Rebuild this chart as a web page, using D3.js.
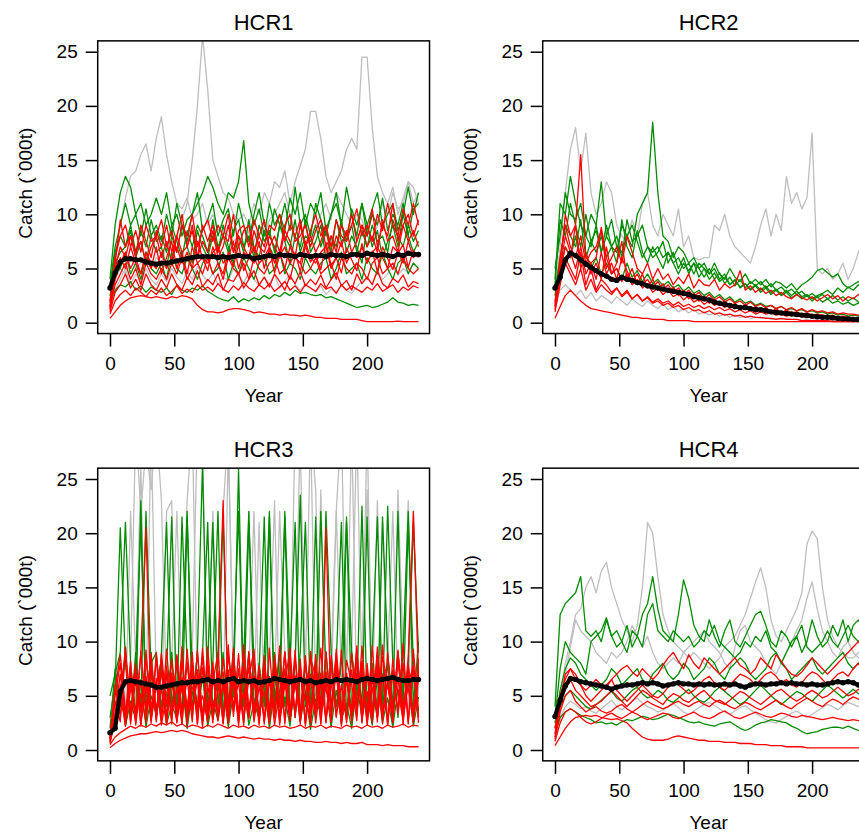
<!DOCTYPE html>
<html>
<head>
<meta charset="utf-8">
<script src="https://cdn.jsdelivr.net/npm/d3@7"></script>
<style>
  body { margin: 0; background: #fff; }
  text { font-family: "Liberation Sans", Arial, sans-serif; }
</style>
</head>
<body>
<svg id="chart" width="859" height="832"></svg>
<script>
// years sampled every 4 years
const years = d3.range(0, 241, 4)
const yTicks = [0, 5, 10, 15, 20, 25]
const xTicks = [0, 50, 100, 150, 200]
const titles = ["HCR1", "HCR2", "HCR3", "HCR4"]

// ---------- HCR1 ----------
const hcr1Median = [3.2,4.6,5.6,5.9,5.9,5.8,5.8,5.6,5.5,5.4, 5.5,5.5,5.6,5.7,5.8,5.9,6.0,6.1,6.1,6.1, 6.1,6.0,6.1,6.0,6.1,6.2,6.1,6.1,5.9,6.0, 6.1,6.2,6.1,6.3,6.2,6.2,6.1,6.3,6.2,6.1, 6.2,6.2,6.1,6.3,6.2,6.2,6.1,6.3,6.3,6.2, 6.4,6.3,6.2,6.3,6.2,6.1,6.3,6.2,6.4,6.3, 6.3]
const hcr1Grey = [
  [3,6,9,11.5,13.5,14,15.5,16.5,14,17, 19,15.5,13,11,10.5,11.5,9.5,10,11,9, 10,8.5,9,8,7.5,8,7,8.5,7.5,9, 8,9.5,10,11,12,10,8.5,9,7.5,8, 9,10,11,9.5,12,11,10,9,10,9.5, 8,7.5,9,11,10,12,10.5,11,13,12.5, 11],
  [2.5,4,5,4.5,6,5,5.5,6.5,5,6, 5.5,7,6,8,9.5,11,15,20,26.5,21.5, 15,13.5,12,11.5,10,9.5,10,9,11,10, 12,11,13,12.5,14,11,13,14.5,16,19.5, 19.5,17,13.5,12,13,14,16,17,16,24.5, 24.5,18,13.5,12,11,12.5,10,11.5,13,11, 12],
  [1.5,3,4,5,3.5,4.5,3.8,5,4,3.5, 4.5,3.8,5,4.2,3.6,4.8,4,5.2,4.4,3.8, 4.6,3.5,4.2,3.9,5,4.3,3.7,4.6,4,3.4, 4.2,3.6,4.4,3.2,3.8,4.5,3.5,3,3.6,3.2, 2.8,3.4,2.6,3.1,2.8,3.5,3,2.7,3.3,3.8, 4.2,3.6,4.8,4,4.5,5.2,4.4,5,4.6,5.5, 5]
]
const hcr1Green = [
  [4,9,12,13.5,12.5,10,11,9,10,11.5, 10,12,9,10,8,9.5,10,11,12,13.5, 12.5,11,10,12,11.5,13,16.8,11,9,10.5, 8,11,9,10,8.5,11.5,10,12,9,11, 10,12,8.5,10,11,9,12.5,10,8,11, 9,10.5,12,9,10,11,8.5,10,12.5,10, 12],
  [3.5,7,9,11,9,10,8,10.5,8,9, 7.5,10,8,11,9,7.5,10,12,8.5,9.5, 11,8,9.5,10.5,8,11,9,7.5,10,12, 9,8,10.5,9,11,8.5,12.5,9,10,8, 11,9.5,8,10,12,9,7.5,10.5,9,11, 8,10,9,11.5,8.5,10,9,11,8,10.5, 11],
  [3,5.5,6.5,7,8.5,6,7.5,5.5,8,6.5, 7,5,8,6.5,9,7,5.5,8.5,7,6, 8,6.5,9,7,5.5,8,6.5,9.5,7,6, 8.5,7,6,9,7.5,5.5,8,7,9.5,6.5, 7.5,9,6,8,7,9.5,6.5,8,7,5.5, 9,7,8.5,6,7.5,9,7,10,8,6.5, 7.5],
  [2.5,4.5,5,6.5,4.5,5.5,4,6,5,4.5, 5.5,4,6.5,5,4.5,6,5,4,5.5,6, 4.5,5,6.5,4,5.5,4.5,6,5,4,5.5, 6,4.5,5,6.5,4.5,5.5,5,4,6,5, 4.5,5.5,6,4,5,6.5,4.5,5,5.5,4, 6,5,4.5,6.5,5,4,5.5,6,4.5,5.5, 5],
  [2,3,3.5,3.3,3.8,3,3.4,2.8,3.3,3, 2.8,3.2,2.6,3.5,3,2.8,3.2,3,3.4,2.9, 2.6,2.3,2.1,2,2.4,1.9,2.2,2,2.3,2.1, 2.5,2.2,2.6,2.4,2.8,2.5,3,2.7,2.8,2.6, 2.5,2.6,2.3,2.4,2.2,2,1.8,1.6,1.4,1.5, 1.6,1.4,1.5,1.7,1.9,2.3,1.9,1.8,1.6,1.7, 1.6],
  [3,6.5,8,7,9,6.5,8.5,7,9.5,7.5, 8,6.5,9,7.5,6,8.5,7,9,8,6.5, 9.5,7,8,6.5,8.5,9.5,7,8,6,9, 7.5,8.5,6.5,9,8,7,9.5,6.5,8,7.5, 9,7,8.5,6.5,9.5,7.5,8,9,6.5,8.5, 7,9,7.5,8,6.5,9.5,8,7,9,7.5, 8.5]
]
const hcr1Red = [
  [2,6,8,9,7,8.5,6.5,9,7.5,8, 9.5,7,8.5,6.5,9,8,10,7,8.5,9.5, 7.5,9,8,10,6.5,8.5,9,7,9.5,8, 7,9,8.5,10,7.5,9,8,9.5,7,8.5, 10,8,9,7,9.5,8,7.5,9,10.5,8, 9,7.5,10,8.5,11,9,8,10.5,9,11, 9],
  [1.5,5,7,6,8,6.5,7.5,5.5,7,8, 6,7.5,5.5,8,6.5,7,9,6,7.5,6.5, 8.5,6,7,9,6.5,8,7,6,8.5,7, 6.5,8,7,6,8.5,7.5,6,9,7,8, 6.5,7.5,9,6,8,7,8.5,6.5,7.5,9, 7,8,6.5,9.5,7.5,8,6.5,9,7.5,8.5, 7],
  [1.2,4,5.5,6.5,5,6,4.5,6.5,5.5,5, 6.5,5,6,7,5.5,6.5,5,7.5,6,5.5, 6.5,7,5.5,6,7.5,5,6.5,6,7,5.5, 6,7,5.5,6.5,5,7,6,5.5,7.5,6, 5.5,6.5,7,5,6,7.5,5.5,6.5,6,7, 5.5,6.5,7,6,5,7,6.5,5.5,7.5,6, 6.5],
  [1.5,3.5,4.5,5.5,4,5,3.5,5.5,4.5,4, 5,4,5.5,4.5,6,4,5,5.5,4.5,6, 4.5,5.5,4,6,5,4.5,5.5,4,6,5, 4.5,5.5,6,4.5,5,4,6,5.5,4.5,5, 6,4.5,5,5.5,4,6,5,4.5,5.5,5, 4,5.5,6,4.5,5,5.5,4.5,6,5,4.5, 5],
  [1,2.8,3.5,4.5,3.2,4,3,4.5,3.5,3, 4,3.2,4.5,3.5,3,4.2,3.5,4.8,3.3,4, 3.5,4.5,3,4,3.8,4.6,3.2,4,4.8,3.5, 4.2,3.3,4.5,3.8,3,4.3,3.6,4.7,3.4,4, 3.5,4.4,3.2,4,4.6,3.4,3.9,3,4.5,3.6, 4.2,3.5,4.8,3.6,3.2,4.1,3.7,4.4,3.3,3.8, 3.6],
  [0.8,2,2.6,3,2.5,3.2,2.8,2.4,3,2.6, 3.2,2.5,2.9,3.4,2.7,3.1,2.8,3.5,3,3.3, 2.9,3.6,3.1,2.8,3.4,3,3.7,3.2,2.9,3.5, 3.1,3.6,2.9,3.3,3.8,3,3.4,2.8,3.5,3.2, 2.9,3.6,3.1,3.3,2.7,3.5,3,3.4,3.1,2.8, 3.3,3,3.6,2.9,3.2,3.5,2.8,3.3,3,3.4, 3.2],
  [0.4,1,1.6,2,2.3,2.4,2.5,2.4,2.3,2.4, 2.3,2.2,2.4,2.3,2.5,2.4,2.2,1.6,1.2,1, 1,0.9,1,1.2,1.3,1.3,1.2,1.1,0.9,1, 0.9,0.8,0.8,0.7,0.8,0.7,0.7,0.6,0.7,0.6, 0.5,0.5,0.4,0.4,0.4,0.3,0.3,0.3,0.3,0.2, 0.1,0.1,0.1,0.1,0.1,0.1,0.15,0.1,0.1,0.1, 0.1],
  [1.8,5.5,9.5,7,8,6,9,7.5,6,8.5, 7,9,6.5,8,10,7,8.5,6,9,7.5, 9,6.5,8,7.5,10,7,8.5,9,6.5,8, 9.5,7,8,6.5,9,10,7.5,8,9,7, 8.5,9.5,7,8,6.5,9,8,10,7.5,9, 8,10.5,7,9,8,11,7.5,9,10,8, 9.5],
  [1.3,4.5,6,5,7,5.5,4.5,6.5,5,7, 4.5,6,7.5,5,6.5,4.5,7,5.5,6,4.8, 7,5.5,4.5,6.5,5.2,7.2,4.8,6,5.5,7.5, 5,6.8,4.6,6.2,7,5.4,6.5,4.7,7.1,5.6, 6.3,4.9,7.4,5.3,6,4.6,6.9,5.8,4.8,7.3, 5.5,6.6,4.7,7,5.9,4.9,6.4,7.2,5.1,6.7, 6]
]

// ---------- HCR2 ----------
const hcr2Median = [3.2,4.2,5.8,6.4,6.2,5.8,5.4,5.1,4.8,4.5, 4.3,4.0,3.9,4.2,4.0,3.9,3.7,3.6,3.4,3.3, 3.2,3.1,3.0,2.9,2.8,2.7,2.6,2.4,2.3,2.2, 2.1,1.9,1.8,1.7,1.6,1.5,1.4,1.4,1.3,1.2, 1.2,1.1,1.0,0.95,0.9,0.85,0.8,0.75,0.7,0.65, 0.6,0.55,0.5,0.5,0.45,0.4,0.35,0.35,0.3,0.3, 0.25]
const hcr2Grey = [
  [2.5,7,12,16,18,14,17.5,12,10,11, 13,12,9,8,7.5,9.5,8,11,12,9, 8,10,9,8,10.5,7,8,6,5.8,6, 6,9,8.5,10,8,7,6.5,6,5.5,7, 9,10.5,8,10,8.5,13.5,11,12,10.5,11.5, 17.5,5,4.5,5,4,4.5,5.5,4,5,6.5, 7.5],
  [2,3,3.5,3,2.5,3,2.2,2.8,2,2.5, 2.2,1.8,2.4,2,1.6,2.2,1.8,1.5,2,1.6, 1.3,1.7,1.2,1.5,1,1.3,0.9,1.2,0.8,1, 0.7,0.9,0.6,0.8,0.5,0.7,0.5,0.6,0.4,0.5, 0.4,0.5,0.3,0.4,0.3,0.4,0.3,0.3,0.2,0.3, 0.2,0.3,0.2,0.2,0.2,0.2,0.2,0.2,0.2,0.2, 0.2]
]
const hcr2Green = [
  [4,11,10,13.5,11,9,8,10,9,13, 8,7,6.5,9,8,7,10,11,12,18.5, 12,8,7.5,6,7,6.5,5.5,6,5,5.5, 4.5,5,4,4.5,3.5,4,3.2,3.6,3,3.4, 2.8,3.2,2.6,3,2.5,2.8,2.3,2.6,2.2,2.5, 2,2.4,1.9,2.2,1.8,2,1.7,1.9,1.6,1.8, 1.6],
  [5,8,12,10,9.5,11,8,7,9,6.5, 8,9.5,7,6.5,8,9,7.5,6,7,6.5, 7,6,6.5,5.5,6,5,5.5,4.5,5.5,5, 4.5,5.5,4.5,4,5,4.2,3.8,4.5,3.6,4, 3.5,4,3.3,3.8,3.6,3.2,3.6,3,3.5,3.8, 4.2,4.8,5,4.6,4.2,4.5,3.6,3.2,3.5,3.8, 3.4],
  [3,6,9,8,7,9.5,6,7.5,6.5,8, 6,7,5.5,9.5,7,6,8.5,6.5,5.5,7, 6,5,6.5,5.5,4.5,5.5,4.8,5.5,4.2,5, 4,4.6,3.8,4.2,3.5,3.9,3.3,3.6,3.1,3.5, 3,3.4,2.8,3.1,2.6,3,2.5,2.9,2.4,2.6, 2.2,2.5,2.7,3,2.6,3.2,2.8,3.3,3,3.5, 3.2],
  [2.5,5,7,6,8,5.5,6.5,5,6,4.5, 5.5,4.5,5,4,5.5,4.2,4.8,3.8,4.5,3.6, 4,3.4,3.8,3.2,3.5,2.9,3.3,2.7,3,2.5, 2.8,2.3,2.6,2.1,2.4,1.9,2.2,1.8,2,1.6, 1.8,1.5,1.6,1.3,1.5,1.2,1.3,1.1,1.2,1, 1.1,0.9,1,0.8,0.9,0.7,0.8,0.6,0.7,0.6, 0.6],
  [3.5,9.5,8,11,9,7,10,7.5,8.5,6.5, 9,7,8,6,9.5,7.5,8,9,7,6, 6.5,7.5,5.5,6.5,5,6,4.5,5.5,5,4.2, 5,4,4.6,3.6,4.2,3.4,4,3.2,3.8,3.4, 3.8,3.2,3.6,3,3.3,2.8,3.1,2.6,2.9,2.4, 2.7,2.3,2.6,2.2,2.5,2.1,2.4,2,2.3,1.9, 2.1]
]
const hcr2Red = [
  [2,5,10,8,9,15.5,6,5.5,6,8.8, 6,4.5,5.5,7.5,4,5,3.5,4.5,3.2,4, 3,3.6,2.8,3.3,2.5,3,2.2,2.7,2,2.4, 1.8,2.2,1.6,2,1.5,1.8,1.3,1.7,1.2,1.5, 1.1,1.4,1,1.3,0.9,1.2,0.9,1,0.8,0.9, 0.7,0.8,0.7,0.6,0.7,0.5,0.6,0.5,0.5,0.4, 0.4],
  [1.5,6,9,7,6,8,5.5,6.5,7,8.5, 5,6,7,5.5,8,6.5,5,4.5,5.5,4, 5,4,4.5,3.5,4.2,3.6,4.5,3.2,4,3.5, 3.4,4,3,3.6,3.2,3.5,4.8,3,3.4,2.8, 3.2,2.7,3,2.5,2.8,2.4,2.2,2.6,2.3,2.1, 2.4,2,2.3,2.6,2.2,2.5,2,2.4,2.2,2.6, 2.3],
  [1.2,4.5,7,6,9,5,6.5,4.5,5.5,4, 7,4.5,5,3.8,4.5,3.5,4,3.2,3.6,2.8, 3.2,2.6,3,2.4,2.7,2.1,2.5,1.9,2.2,1.7, 2,1.6,1.8,1.4,1.6,1.3,1.5,1.2,1.3,1, 1.2,1,1.1,0.8,1,0.8,0.9,0.7,0.8,0.6, 0.7,0.6,0.6,0.5,0.5,0.5,0.4,0.4,0.4,0.3, 0.3],
  [1,3.5,6,5,4,6.5,3.5,5,3,4, 3.5,2.8,3.2,2.5,3,2.2,2.6,2,2.3,1.8, 2,1.6,1.8,1.4,1.6,1.2,1.4,1.1,1.2,0.9, 1.1,0.8,0.9,0.7,0.8,0.6,0.7,0.5,0.6,0.5, 0.5,0.4,0.4,0.3,0.4,0.3,0.3,0.3,0.2,0.2, 0.2,0.2,0.2,0.2,0.1,0.1,0.1,0.1,0.1,0.1, 0.1],
  [0.4,1.5,2.5,3,2.5,2,1.6,1.3,1.2,1.1, 1,0.9,0.8,0.7,0.6,0.5,0.5,0.4,0.4,0.3, 0.3,0.3,0.2,0.2,0.2,0.2,0.2,0.1,0.1,0.1, 0.1,0.1,0.1,0.1,0.1,0.1,0.1,0.1,0.1,0.1, 0.1,0.1,0.1,0.1,0.1,0.1,0.1,0.1,0.1,0.1, 0.1,0.1,0.1,0.1,0.1,0.1,0.1,0.1,0.1,0.1, 0.1],
  [1.8,5,8,6.5,5,7,4.5,5.5,4,6.5, 4.5,5.5,4,6,4.8,3.8,4.5,3.5,4,3.2, 3.8,3,3.5,2.8,3.2,2.6,3,2.4,2.8,2.2, 2.6,2.1,2.4,1.9,2.2,1.8,2,1.6,1.9,1.5, 1.7,1.4,1.6,1.3,1.5,1.2,1.4,1.1,1.3,1, 1.2,1,1.1,0.9,1,0.8,0.9,0.8,0.8,0.7, 0.7],
  [1.5,4,5.5,4.5,3.5,5,3,4,2.8,3.5, 3,2.6,3.2,2.4,2.8,2.2,2.6,2,2.4,1.9, 2.2,1.8,2,1.6,1.9,1.5,1.7,1.4,1.6,1.3, 1.5,1.2,1.4,1.1,1.3,1,1.2,0.9,1.1,0.8, 1,0.8,0.9,0.7,0.8,0.6,0.7,0.6,0.6,0.5, 0.5,0.5,0.4,0.4,0.4,0.3,0.3,0.3,0.3,0.3, 0.3]
]

// ---------- HCR3 ----------
const hcr3Median = [1.6,2.0,5.4,6.3,6.4,6.3,6.2,6.1,6.0,5.8, 5.8,5.9,6.0,6.1,6.2,6.2,6.3,6.3,6.4,6.5, 6.3,6.4,6.3,6.5,6.6,6.3,6.4,6.3,6.4,6.2, 6.3,6.4,6.6,6.5,6.4,6.3,6.4,6.5,6.3,6.4, 6.2,6.3,6.4,6.3,6.5,6.4,6.5,6.4,6.3,6.5, 6.6,6.5,6.4,6.5,6.6,6.7,6.5,6.4,6.4,6.5, 6.5]
const hcr3Grey = [
  [1,6,9,4,8,30,22,28,24,30, 23,5,8,22,6,3,9,30,28,4, 7,3,22,30,5,8,3,7,22,4, 8,3,6,22,9,4,7,30,26,30, 24,3,8,5,22,7,3,9,30,6, 30,4,23,3,8,22,5,9,23,4, 7],
  [1.5,4,7,3,22,8,26,4,30,6, 3,22,23,4,8,23,30,5,3,8, 22,6,4,28,8,3,9,22,5,21, 4,8,23,3,9,5,30,28,7,30, 5,24,3,8,22,30,6,30,4,9, 24,6,3,21,7,4,24,9,3,22, 5]
]
const hcr3Green = [
  [5,7,9,21,8,3,23,2.5,8,9, 4,7,21.5,3,8,22,3,9,26.5,4, 8,22,3,9,5,26,4,21,8,3, 9,22,4,7,21.5,3,8,23.5,4,9, 3,22,7,4,8,21,3,9,5,22.5, 4,8,3,21.5,9,4,22,3,8,21, 9],
  [3,6,20.5,8,3,9,4,22,7,3, 9,21,4,8,3,21.5,7,4,9,21, 3,8,21.5,4,9,3,8,22,4,7, 21.5,3,9,4,22,8,3,9,21,4, 8,3,22,9,4,8,21.5,3,9,4, 21.5,3,9,4,22.5,8,3,9,22,4, 10],
  [2,7.5,4,9.5,3,8,21,4,9,3, 8,4,9,3,21.5,8,4,9,3,8, 21,4,9,3,8,22,4,9,3,8, 4,21.5,3,9,4,8,21,3,8,4, 21.5,3,9,4,8,3,21,9,4,8, 3,9,21.5,4,8,3,9,4,21,8, 3],
  [1.5,3,5.5,2.2,4.5,2.8,6.5,2.1,5,3.2, 5.8,2.4,4.2,2.9,6.3,2,5.4,3.4,6.8,2.2, 4.6,2.7,5.9,2.1,5.2,3.6,6.1,2.3,4.4,2.9, 6.4,2,5.7,3.1,4.9,2.2,6.6,2.6,5.3,1.9, 4.7,3.3,6.2,2.1,5.5,2.8,4.3,2,6,3, 5.1,2.3,6.7,2.5,4.8,2.1,5.6,3.5,6.3,2.2, 4.9]
]
const hcr3Red = [
  [1,5,8,2.5,7.5,3,9,20.5,2.8,8.5, 3.2,7,2.4,8.8,3.5,6.5,2.6,9.2,3,7.8, 2.5,8.4,23,3.1,7.2,2.7,9.5,3.4,6.8,2.3, 8.7,3,7.4,2.6,9.1,3.3,6.9,2.4,8.2,3.6, 7.6,2.5,20.5,3.2,8.9,2.7,7.1,3.5,9.3,2.6, 8,3.1,7.3,2.4,9,3.4,6.7,2.8,8.6,22, 7],
  [0.8,6,3,9.5,2.6,8,3.4,6.8,2.5,9, 3,7.7,2.8,8.6,2.4,9.3,3.6,7,2.7,8.3, 3.3,6.6,2.5,9.7,3.1,7.5,2.6,8.8,3.5,7.2, 2.4,9.4,3,6.9,2.7,8.5,3.2,7.8,2.5,9.1, 3.4,7.1,2.6,8.7,3,9.2,2.5,7.4,3.3,8.2, 2.7,9.6,3.1,7,2.4,8.4,3.5,9.8,2.6,7.6, 3],
  [1.2,3.5,7,3.2,8.2,2.3,6.4,3.8,8.9,2.6, 7.3,3.1,8.4,2.5,6.7,3.6,9,2.4,7.6,3.3, 8.1,2.8,6.3,3.5,9.4,2.2,7.7,3,8.6,2.7, 6.9,3.7,8.3,2.3,7.5,3.2,9.2,2.6,6.6,3.4, 8.8,2.4,7.2,3.6,8.5,2.2,6.8,3.1,9.6,2.5, 7.4,3.3,8.7,2.9,6.5,3.7,9.1,2.3,7.9,3.2, 8.4],
  [0.9,2.5,6,2.2,5.5,7.5,2.4,5.8,3,6.6, 2.3,5.2,7.1,2.6,6.2,2.9,5.6,7.4,2.5,6, 2.8,5.4,7.2,2.4,6.4,3.1,5.1,7.6,2.6,5.9, 3,6.8,2.3,5.5,7.3,2.7,6.1,3.2,5.3,7, 2.5,6.3,2.9,5.7,7.5,2.4,6.7,3.3,5,7.2, 2.6,5.8,3,6.9,2.3,7.4,5.4,2.8,6.2,7.7, 2.5],
  [1.1,4.5,2.6,9,3.4,7.2,2.2,8.6,4,6.1, 2.7,9.3,3.3,5.8,2.4,8.1,3.7,6.5,2.1,9.5, 3.5,7.3,2.5,8.8,4.1,6.2,2.3,9.1,3.2,7.8, 2.6,6.3,3.9,9.6,2.4,7.1,3.4,8.4,2.2,6.7, 3.6,9.4,2.5,7.9,3.1,6,2.7,8.9,3.8,7.5, 2.3,6.6,3.5,9.7,2.6,7.2,3.3,8,2.4,9.3, 3.6],
  [0.7,3,4.8,2.7,6.9,3.5,5.2,2.5,7.8,3.9, 5.6,2.4,7,3.2,5.9,2.8,8,3.6,5,2.6, 7.5,3.3,6,2.5,8.2,3.7,5.3,2.9,6.8,3.4, 5.5,2.4,7.7,3.1,6.3,2.7,8.4,3.5,5.1,2.5, 7.3,3.8,5.8,2.6,8.1,3.2,6.5,2.8,7.1,3.6, 5.4,2.5,7.9,3.3,6.1,2.7,8.3,3.9,5.7,2.6, 7],
  [0.5,1.2,1.6,1.9,2.2,2,2.3,2.1,2.4,2.2, 2.5,2.3,2.6,2.2,2.4,2.1,2.3,2.2,2,2.3, 2.1,2.4,2.2,2,2.3,2.1,2.2,2,2.3,2.1, 2.2,2,2.3,2.1,2.2,2,2.1,2.3,2,2.2, 2.1,2.3,2,2.2,2.1,2,2.3,2.1,2.2,2, 2.3,2.1,2.2,2,2.3,2.1,2.2,2.4,2.1,2.3, 2.2],
  [0.2,0.6,0.9,1.1,1.3,1.4,1.5,1.5,1.6,1.7, 1.6,1.7,1.8,1.7,1.8,1.7,1.5,1.4,1.3,1.2, 1.2,1.1,1.2,1.3,1.2,1.1,1.2,1.1,1,1.1, 1,1,0.9,1,0.9,0.9,0.8,0.9,0.8,0.8, 0.7,0.7,0.8,0.7,0.7,0.6,0.7,0.6,0.6,0.7, 0.5,0.5,0.5,0.4,0.5,0.4,0.4,0.4,0.3,0.3, 0.3],
  [0.6,2.8,5.5,8.7,2.4,6.4,3.6,9.2,2.7,5.9, 8.3,2.5,6.8,3.4,9.5,2.3,7.1,4,8.6,2.6, 6.2,9,2.4,7.4,3.5,8.9,2.8,6.5,9.3,2.5, 7.6,3.2,8.8,2.6,6,9.4,3,7.3,2.4,8.5, 6.7,2.9,9.1,3.6,7,2.5,8.3,6.1,2.7,9.6, 3.4,7.5,2.6,8.6,6.3,2.5,9.2,3.1,7.8,2.8, 6.6],
  [1.3,5.5,8.8,3.6,6.2,2.5,9.1,3.2,7.4,2.8, 8.9,4.2,6.5,2.6,8.2,3.9,6.9,2.4,9.4,3.5, 7.1,2.7,8.5,4.4,6.3,2.5,9.7,3.8,6.6,2.9, 8.4,2.6,7.3,4.1,9,2.8,6.4,3.5,8.7,2.4, 7.7,4.3,6.2,2.6,9.3,3.7,6.8,2.5,8.1,4, 7,2.7,9.5,3.3,6.4,2.6,8.8,3.9,7.2,2.5, 8]
]

// ---------- HCR4 ----------
const hcr4Median = [3.1,4.6,5.9,6.6,6.5,6.3,6.2,6.1,6.0,5.9, 5.8,5.6,5.8,5.9,6.0,6.0,6.1,6.2,6.1,6.2, 6.1,5.9,6.0,6.1,6.2,6.1,6.1,6.0,6.1,6.0, 6.1,6.0,6.0,6.1,6.0,6.1,5.9,5.8,6.0,6.1, 6.1,6.0,6.1,6.1,6.2,6.1,6.2,6.1,6.1,6.0, 6.1,6.0,6.0,6.1,6.2,6.3,6.2,6.3,6.2,6.0, 6.0]
const hcr4Grey = [
  [2,5,8,10,12.5,13,15,16,14.5,16.5, 17.3,15,13.5,12,11,10,11.5,15,21,20, 16,12.5,11,10,9.5,9,8.5,9,8.5,8, 7.5,8,8.5,9.5,10,10.5,11.5,12.5,14,15.5, 16.8,15,12,10.5,10,11,12,13,14.5,19, 20.2,19.5,15,12,10.5,9.5,9,8.5,8.5,9, 9],
  [1.5,4.5,7,9.5,12,11,10.5,10,9,8.5, 8,9,8.5,9,10,11.5,10.5,9.5,10.5,9, 8,7.5,8,8.5,8,9,9.5,10,10.5,11, 10,9.5,9,8,7.5,9.5,11,11.5,10,9.5, 9,8,7.5,7,8,9,10,11,12,14, 15.5,13,11,10,9,8.5,9.5,10,9,8.5, 9],
  [1.2,3,4,4.5,4.2,3.8,4,3.6,3.4,3.8, 4.2,4.6,4,3.7,4.1,4.5,4.8,4.3,4,3.8, 3.5,3.7,4,4.3,3.9,3.5,3.3,3.6,3.9,4.2, 4.4,4.1,3.8,3.5,3.3,3.6,3.9,4.1,3.7,3.4, 3.1,2.8,2.6,2.5,2.8,3.1,3.4,3.6,3.3,3, 3.3,3.6,3.9,4.2,4,3.7,4.1,4.4,4.2,4, 4.3]
]
const hcr4Green = [
  [4,12.5,13.5,14,14.5,16,11,10.5,11,10, 12,10.5,9.5,10,11.5,9.5,10.5,12.5,13.5,16, 13,11,10.5,10,12.5,15.7,14,11.5,10.5,10, 12,10.5,9.5,11,12,10,9.5,10.5,11.5,12.5, 12.8,11.5,10,9.5,11,10.5,9.5,10.5,9,10, 12,10.5,9.5,10,11.5,10.5,12,10,11.5,12, 11],
  [3,7.5,10,9,8.5,8,7,10,10.5,11, 12.2,10.5,11,10,9,11,10.5,9.5,12.5,13.5, 11,10.5,10,11,10.5,10,10.5,9.5,10,11, 10.5,11.5,10,9.5,9,8.5,9,10,9.5,10.5, 10,11,9.5,9,8,9,10,10.5,11.5,9.5, 9,9.5,10,11,10,9.5,10.5,11.5,10.5,10, 10.5],
  [2.5,5.5,7.5,8.5,8,7,6.5,6,5.5,6, 6.5,7.5,7,6,6.5,7,7.5,6.5,6,7, 7.5,8,7,6.5,7,8,7.5,6.5,7,7.5, 8.5,8,7,6.5,7.5,8,8.5,8,7,6.5, 7,7.5,8.5,9,8,7.5,6.5,7,7.5,8, 8.5,7.5,7,7.5,8,8.5,9,8,7.5,8, 8.5],
  [2,4,5,5.5,5,4.5,4,3.8,4.2,4.6, 5,5.4,4.8,4.5,5,5.5,5.8,5.2,4.8,5, 5.5,5.2,4.6,4.4,4.8,5.2,5.6,5,4.6,4.4, 4.8,5.4,5.8,5.4,5,4.6,4.2,4.5,5,5.5, 6,5.5,5,4.6,4.2,4.6,5,5.4,5.2,4.8, 4.5,5,5.5,6,5.6,5.2,4.8,5.2,5.6,5.2, 5],
  [1.5,3,3.5,3.8,3.5,3.2,3,2.8,2.5,2.6, 2.4,2.5,2.3,2.6,2.8,2.7,2.9,3.1,3,2.8, 2.9,3.1,3.3,3.2,3,2.8,2.6,2.5,2.6,2.4, 2.3,2.2,2.4,2.5,2.6,2.3,2,1.8,2,2.3, 2.5,2.6,2.8,2.7,2.6,2.5,2.2,2,1.7,1.5, 1.6,1.7,1.9,2,2.1,2.1,2,2.2,2,1.8, 1.7]
]
const hcr4Red = [
  [2,5,6.5,7.5,7,6,5.5,6,6.5,6, 5.8,6.5,7,7.5,7.8,7.2,6.8,7.5,7,6.5, 7,7.8,8.5,9,8.2,7.5,8.8,8,7.5,8.5, 8,7.5,7,7.5,8,8.5,7.8,7.5,7,7.5, 8.5,8,7.5,8.8,8.2,7.5,7,6.8,7.2,7.8, 8.5,8,7.5,7,7.5,8,8.5,9,9.5,10, 9.5],
  [1.5,4.5,7,7.5,6.5,6,5,4.5,5,5.5, 6,6.5,5.5,5,4.5,5,5.5,6,5.5,5, 4.8,5.2,5.8,6.2,6,5.6,5.2,5.5,6,6.5, 6.8,6.2,5.8,5.5,6,6.5,7,6.8,6.5,6, 6.5,7,7.2,6.8,6.2,6.5,6,5.8,6.2,6.8, 7.2,7,6.5,6,6.5,7,7.2,6.8,7.5,8, 7.5],
  [1.2,4,6,6.5,5.5,5,4.5,4,4.2,4.5, 5,5.5,5,4.5,4,4.5,5,5.5,5.2,4.8, 4.5,4.2,4.8,5.2,5,4.6,4.4,4.8,5.2,5.5, 5,4.6,4.4,4.2,4.6,5,5.4,5.2,4.8,4.5, 4.2,4.6,5,5.4,5.6,5.2,4.8,4.5,4.8,5.2, 5.5,5.2,4.8,5,5.4,5.8,5.4,5,5.2,5.6, 5.4],
  [1,3.5,5,5.5,4.5,4,3.5,3.8,4,3.6, 3.4,3.6,4,4.2,3.8,3.5,3.8,4.2,4.5,4.2, 4,3.8,4,4.3,4.5,4.2,4,4.3,4.5,4.2, 4,4.4,4.6,4.3,4,3.8,4.1,4.4,4.2,3.9, 3.7,4,4.3,4.6,4.3,4,3.8,4.2,4.5,4.8, 4.5,4.2,4,4.4,4.7,4.5,4.2,4.6,4.9,4.7, 4.5],
  [0.8,2.5,3.5,3.8,3.5,3,2.6,2.4,2.6,2.9, 3.2,3.4,3.1,2.9,3.2,3.5,3.3,3,2.8,3, 3.2,3.4,3.3,3,2.9,3.1,3.3,3.5,3.2,3, 2.9,3.1,3.4,3.6,3.3,3,2.9,3.1,3.3,3.5, 3.3,3.1,3,3.2,3.4,3.3,3.1,3,3.2,3.1, 3,2.9,2.8,2.9,3,2.9,2.8,2.7,2.8,2.7, 2.6],
  [0.4,1.2,2,2.6,3,3.1,3.2,3.1,3.2,3, 2.9,2.8,2.9,2.7,2.5,2,1.6,1.2,1,0.9, 0.9,0.9,1,1.2,1.3,1.2,1.1,1,0.9,0.9, 0.8,0.8,0.8,0.7,0.7,0.7,0.6,0.6,0.6,0.5, 0.5,0.5,0.4,0.4,0.4,0.3,0.3,0.3,0.3,0.2, 0.2,0.2,0.2,0.2,0.2,0.2,0.2,0.2,0.2,0.2, 0.2]
]

const panels = [
  { title: titles[0], grey: hcr1Grey, green: hcr1Green, red: hcr1Red, median: hcr1Median },
  { title: titles[1], grey: hcr2Grey, green: hcr2Green, red: hcr2Red, median: hcr2Median },
  { title: titles[2], grey: hcr3Grey, green: hcr3Green, red: hcr3Red, median: hcr3Median },
  { title: titles[3], grey: hcr4Grey, green: hcr4Green, red: hcr4Red, median: hcr4Median }
]

const svg = d3.select("#chart")
const fontSize = 19

panels.forEach((p, i) => {
  const col = i % 2, row = Math.floor(i / 2)
  const dx = col * 445, dy = row * 427.3

  // R-style scales: 4% padding around data range
  const x = d3.scaleLinear().domain([0, 200]).range([110 + dx, 367.1 + dx])
  const y = d3.scaleLinear().domain([0, 25]).range([322.7 + dy, 51.7 + dy])
  const x0 = x(-9.56), x1 = x(248.56), yb = y(-1), yt = y(26)

  const g = svg.append("g")
  g.append("clipPath").attr("id", "clip" + i)
    .append("rect")
      .attr("x", x0).attr("y", yt)
      .attr("width", x1 - x0).attr("height", yb - yt)

  const line = d3.line()
    .x((d, j) => x(years[j]))
    .y(d => y(d))

  const plot = g.append("g").attr("clip-path", `url(#clip${i})`)

  // grey, then green, then red, black median on top
  const sets = [[p.grey, "#bebebe"], [p.green, "#008b00"], [p.red, "#ff0000"]]
  sets.forEach(([set, colour]) => {
    plot.append("g").selectAll("path")
      .data(set)
      .join("path")
        .attr("d", line)
        .attr("fill", "none")
        .attr("stroke", colour)
        .attr("stroke-width", 1.3)
        .attr("stroke-linejoin", "round")
  })

  plot.append("path")
    .datum(p.median)
    .attr("d", line)
    .attr("fill", "none")
    .attr("stroke", "#000")
    .attr("stroke-width", 4.2)
    .attr("stroke-linejoin", "round")
  plot.append("g").selectAll("circle")
    .data(p.median)
    .join("circle")
      .attr("cx", (d, j) => x(years[j]))
      .attr("cy", d => y(d))
      .attr("r", 2.7)
      .attr("fill", "#000")

  // box
  g.append("rect")
    .attr("x", x0).attr("y", yt)
    .attr("width", x1 - x0).attr("height", yb - yt)
    .attr("fill", "none")
    .attr("stroke", "#000")
    .attr("stroke-width", 1.5)

  // axes
  const yAxis = g.append("g")
    .attr("transform", `translate(${x0},0)`)
    .call(d3.axisLeft(y).tickValues(yTicks).tickSize(12).tickPadding(8))
  const xAxis = g.append("g")
    .attr("transform", `translate(0,${yb})`)
    .call(d3.axisBottom(x).tickValues(xTicks).tickSize(13).tickPadding(10))
  ;[yAxis, xAxis].forEach(a => {
    a.select(".domain").remove()
    a.attr("font-size", fontSize).attr("font-family", null)
    a.selectAll("line").attr("stroke-width", 1.5)
    a.selectAll("text").attr("fill", "#000")
  })

  // titles and labels
  g.append("text")
    .attr("x", (x0 + x1) / 2).attr("y", yt - 11)
    .attr("text-anchor", "middle")
    .attr("font-size", 22)
    .text(p.title)
  g.append("text")
    .attr("x", (x0 + x1) / 2).attr("y", yb + 68)
    .attr("text-anchor", "middle")
    .attr("font-size", fontSize)
    .text("Year")
  g.append("text")
    .attr("transform", `translate(${25 + dx},${(yt + yb) / 2 - 4}) rotate(-90)`)
    .attr("text-anchor", "middle")
    .attr("dominant-baseline", "central")
    .attr("font-size", fontSize)
    .text("Catch (`000t)")
})
</script>
</body>
</html>
